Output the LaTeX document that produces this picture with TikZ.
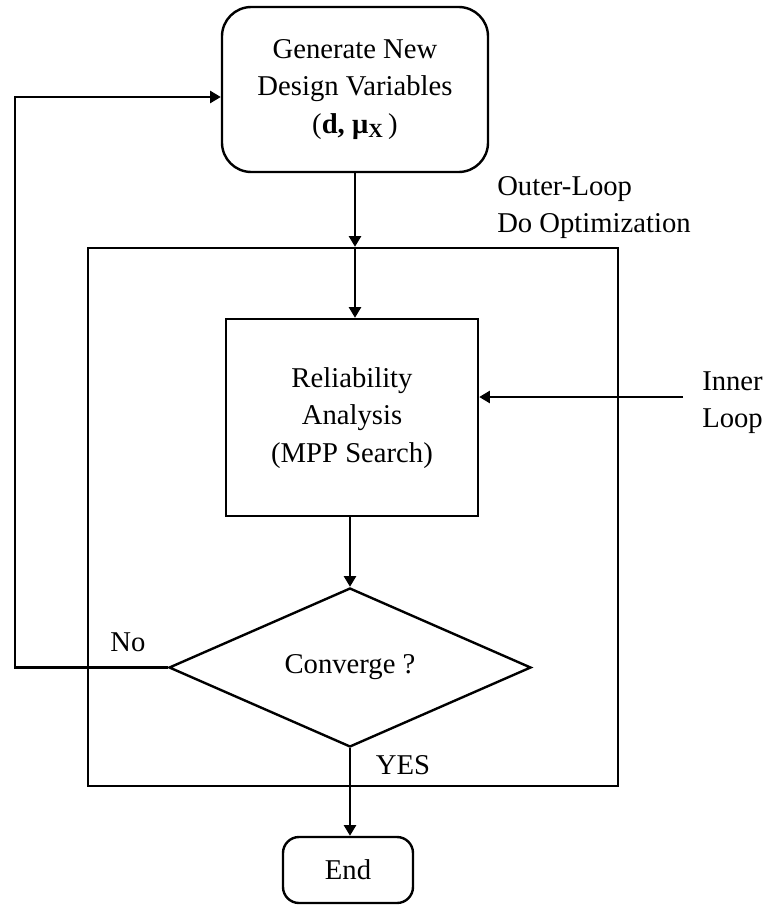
\documentclass[tikz,border=0pt]{standalone}
\usepackage{fontspec}
\setmainfont{Liberation Serif}
\usetikzlibrary{arrows.meta,shapes.geometric}
\tikzset{
  base/.style={line width=1.8pt},
  arr/.style={base,-{Triangle[length=8pt,width=9pt]}},
  txt/.style={font=\fontsize{21.5}{28}\selectfont, inner sep=0pt},
  rbox/.style={base,draw,rounded corners=22pt,align=center,txt},
  sbox/.style={base,draw,align=center,txt},
  dia/.style={base,draw,diamond,inner sep=0pt,txt},
}
\begin{document}
\begin{tikzpicture}[x=0.75pt,y=-0.75pt]
\useasboundingbox (0,0) rectangle (768,907);
% outer container
\node[base,draw,minimum width=397.5pt,minimum height=403.5pt,inner sep=0pt] (outer) at (353,517) {};
% nodes
\node[rbox,minimum width=199.5pt,minimum height=123.75pt] (top) at (355,89.5)
  {Generate New\\Design Variables\\({\bfseries d, μ}\textsubscript{\bfseries X}\,)};
\node[sbox,minimum width=189pt,minimum height=147.75pt] (inner) at (352,417.5)
  {\raisebox{-4pt}{\begin{tabular}{@{}c@{}}Reliability\\Analysis\\(MPP Search)\end{tabular}}};
\node[dia,minimum width=271.5pt,minimum height=119.25pt] (conv) at (350,667.5) {Converge ?};
\node[rbox,rounded corners=12pt,minimum width=97.5pt,minimum height=49.5pt] (end) at (348,870) {End};
% labels
\node[txt,anchor=west,align=left] (outerlbl) at (497,207.5) {Outer-Loop\\Do Optimization};
\node[txt,anchor=west,align=left] (innerlbl) at (702,402.5) {Inner\\Loop};
\node[txt] (no) at (128,642) {No};
\node[txt] (yes) at (403,765) {YES};
% helper coordinates
\coordinate (loopL) at (15,97);
\coordinate (innerR) at (683,397);
\coordinate (entry) at (top.south |- outer.north);
% connectors
\draw[arr] (top.south) -- (entry);
\draw[arr] (entry) -- (top.south |- inner.north);
\draw[arr] (inner.south -| conv.north) -- (conv.north);
\draw[arr] (conv.south) -- (end.north -| conv.south);
\draw[arr] (conv.west) -| (loopL) -- (loopL -| top.west);
\draw[arr] (innerR) -- (innerR -| inner.east);
\end{tikzpicture}
\end{document}
